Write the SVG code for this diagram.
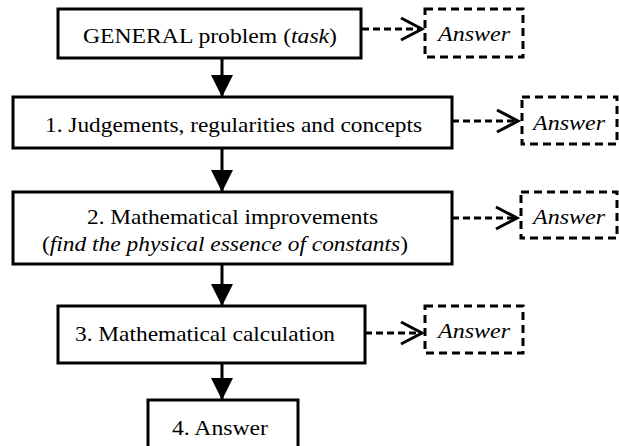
<svg xmlns="http://www.w3.org/2000/svg" width="619" height="446" viewBox="0 0 619 446">
<defs>
<style>
.box{fill:#fff;stroke:#000;stroke-width:3}
.dbox{fill:#fff;stroke:#000;stroke-width:3;stroke-dasharray:8 5}
.solid{stroke:#000;stroke-width:3;fill:none}
.dash{stroke:#000;stroke-width:3;fill:none;stroke-dasharray:7 4}
.head{stroke:#000;stroke-width:3;fill:none}
</style>
<marker id="tri" viewBox="0 0 22 22" refX="22" refY="11" markerWidth="22" markerHeight="22" markerUnits="userSpaceOnUse" orient="auto">
<path d="M0,0 L22,11 L0,22 Z" fill="#000"/>
</marker>
</defs>
<rect width="619" height="446" fill="#fff"/>

<g id="connectors">
<line class="solid" x1="222" y1="58" x2="222" y2="97" marker-end="url(#tri)"/>
<line class="solid" x1="222" y1="148" x2="222" y2="192" marker-end="url(#tri)"/>
<line class="solid" x1="222" y1="264" x2="222" y2="306" marker-end="url(#tri)"/>
<line class="solid" x1="222" y1="363" x2="222" y2="400" marker-end="url(#tri)"/>
<line class="dash" x1="362" y1="29" x2="421" y2="29"/>
<polyline class="head" points="401,18 422,29 401,40"/>
<line class="dash" x1="452" y1="121" x2="517" y2="121"/>
<polyline class="head" points="497,110 518,121 497,132"/>
<line class="dash" x1="452" y1="218" x2="516" y2="218"/>
<polyline class="head" points="496,207 517,218 496,229"/>
<line class="dash" x1="365" y1="333" x2="421" y2="333"/>
<polyline class="head" points="401,322 422,333 401,344"/>
</g>

<g font-family="Liberation Serif, serif" font-size="21" fill="#000">
<g id="general">
<rect class="box" x="58" y="9" width="303" height="49"/>
<text x="83" y="43" textLength="254" lengthAdjust="spacingAndGlyphs">GENERAL problem (<tspan font-style="italic">task</tspan>)</text>
</g>
<g id="answer0">
<rect class="dbox" x="425" y="9" width="98" height="48"/>
<text x="438" y="41" font-style="italic" textLength="72" lengthAdjust="spacingAndGlyphs">Answer</text>
</g>

<g id="step1">
<rect class="box" x="13" y="97" width="439" height="51"/>
<text x="45" y="132" textLength="377" lengthAdjust="spacingAndGlyphs">1. Judgements, regularities and concepts</text>
</g>
<g id="answer1">
<rect class="dbox" x="522" y="97" width="95" height="47"/>
<text x="533" y="130" font-style="italic" textLength="72" lengthAdjust="spacingAndGlyphs">Answer</text>
</g>

<g id="step2">
<rect class="box" x="13" y="192" width="439" height="72"/>
<text x="87" y="224" textLength="291" lengthAdjust="spacingAndGlyphs">2. Mathematical improvements</text>
<text x="42" y="251" textLength="366" lengthAdjust="spacingAndGlyphs">(<tspan font-style="italic">find the physical essence of constants</tspan>)</text>
</g>
<g id="answer2">
<rect class="dbox" x="521" y="192" width="96" height="46"/>
<text x="533" y="224" font-style="italic" textLength="72" lengthAdjust="spacingAndGlyphs">Answer</text>
</g>

<g id="step3">
<rect class="box" x="58" y="306" width="307" height="57"/>
<text x="75" y="341" textLength="260" lengthAdjust="spacingAndGlyphs">3. Mathematical calculation</text>
</g>
<g id="answer3">
<rect class="dbox" x="425" y="306" width="98" height="47"/>
<text x="438" y="338" font-style="italic" textLength="72" lengthAdjust="spacingAndGlyphs">Answer</text>
</g>

<g id="step4">
<rect class="box" x="148" y="400" width="150" height="60"/>
<text x="172" y="435" textLength="96" lengthAdjust="spacingAndGlyphs">4. Answer</text>
</g>
</g>
</svg>
